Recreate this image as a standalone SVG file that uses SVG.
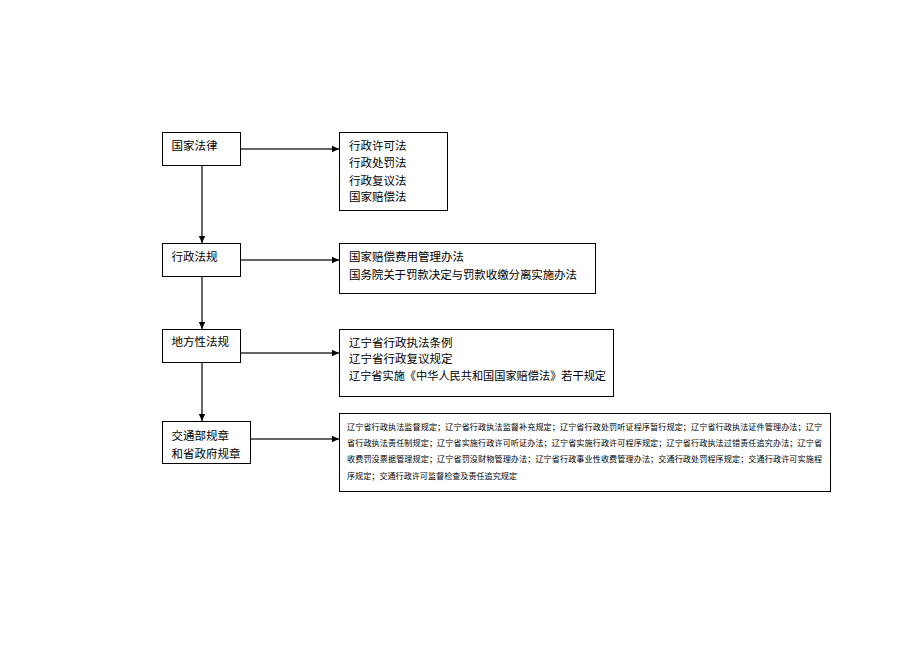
<svg xmlns="http://www.w3.org/2000/svg" width="920" height="651" viewBox="0 0 920 651">
<defs>
<marker id="ah" markerWidth="8" markerHeight="8" refX="7" refY="4" orient="auto" markerUnits="userSpaceOnUse">
<path d="M0,0.8 L7,4 L0,7.2 Z" fill="#000"/>
</marker>
<style>
.box{fill:#fff;stroke:#000;stroke-width:1}
.t{font-family:"Noto Sans CJK SC","Noto Sans",sans-serif;font-size:11.5px;fill:#000}
.s{font-family:"Noto Sans CJK SC","Noto Sans",sans-serif;font-size:8.1px;fill:#000}
.v{stroke:#000;stroke-width:1.2;fill:none}
.h{stroke:#333;stroke-width:1.6;fill:none}
</style>
</defs>
<rect width="920" height="651" fill="#fff"/>
<g id="connectors">
<line class="v" x1="202" y1="166" x2="202" y2="243" marker-end="url(#ah)"/>
<line class="v" x1="202" y1="277" x2="202" y2="329" marker-end="url(#ah)"/>
<line class="v" x1="202" y1="363" x2="202" y2="421" marker-end="url(#ah)"/>
<line class="h" x1="241" y1="149" x2="339" y2="149" marker-end="url(#ah)"/>
<line class="h" x1="241" y1="260" x2="339" y2="260" marker-end="url(#ah)"/>
<line class="h" x1="241" y1="353" x2="339" y2="353" marker-end="url(#ah)"/>
<line class="h" x1="251" y1="439" x2="339" y2="439" marker-end="url(#ah)"/>
</g>
<g id="n-law">
<rect class="box" x="162.5" y="132.5" width="78" height="33"/>
<text class="t" x="171.5" y="149.5">国家法律</text>
</g>
<g id="n-law-list">
<rect class="box" x="339.5" y="132.5" width="108" height="78"/>
<text class="t" x="349" y="149.5">行政许可法</text>
<text class="t" x="349" y="167">行政处罚法</text>
<text class="t" x="349" y="184.5">行政复议法</text>
<text class="t" x="349" y="201">国家赔偿法</text>
</g>
<g id="n-reg">
<rect class="box" x="162.5" y="243.5" width="78" height="33"/>
<text class="t" x="171.5" y="260.5">行政法规</text>
</g>
<g id="n-reg-list">
<rect class="box" x="339.5" y="243.5" width="256" height="50"/>
<text class="t" x="349" y="260.5">国家赔偿费用管理办法</text>
<text class="t" x="349" y="279" textLength="228" lengthAdjust="spacing">国务院关于罚款决定与罚款收缴分离实施办法</text>
</g>
<g id="n-local">
<rect class="box" x="162.5" y="329.5" width="78" height="33"/>
<text class="t" x="171.5" y="346">地方性法规</text>
</g>
<g id="n-local-list">
<rect class="box" x="339.5" y="329.5" width="274" height="67"/>
<text class="t" x="349" y="346.7">辽宁省行政执法条例</text>
<text class="t" x="349" y="362.8">辽宁省行政复议规定</text>
<text class="t" x="349" y="379.7" textLength="257" lengthAdjust="spacingAndGlyphs">辽宁省实施《中华人民共和国国家赔偿法》若干规定</text>
</g>
<g id="n-rules">
<rect class="box" x="162.5" y="421.5" width="88" height="42"/>
<text class="t" x="171.5" y="439.5">交通部规章</text>
<text class="t" x="171.5" y="457.5">和省政府规章</text>
</g>
<g id="n-rules-list">
<rect class="box" x="339.5" y="413.5" width="491" height="78"/>
<text class="s" x="347" y="430" textLength="475" lengthAdjust="spacing">辽宁省行政执法监督规定；辽宁省行政执法监督补充规定；辽宁省行政处罚听证程序暂行规定；辽宁省行政执法证件管理办法；辽宁</text>
<text class="s" x="347" y="446" textLength="475" lengthAdjust="spacing">省行政执法责任制规定；辽宁省实施行政许可听证办法；辽宁省实施行政许可程序规定；辽宁省行政执法过错责任追究办法；辽宁省</text>
<text class="s" x="347" y="462" textLength="475" lengthAdjust="spacing">收费罚没票据管理规定；辽宁省罚没财物管理办法；辽宁省行政事业性收费管理办法；交通行政处罚程序规定；交通行政许可实施程</text>
<text class="s" x="347" y="479">序规定；交通行政许可监督检查及责任追究规定</text>
</g>
</svg>
